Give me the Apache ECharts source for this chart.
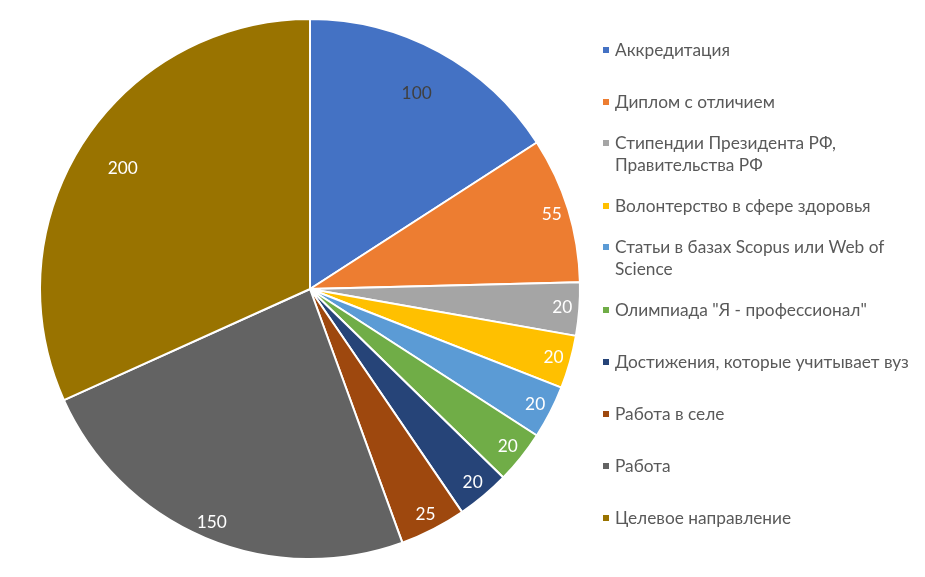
<!DOCTYPE html>
<html>
<head>
<meta charset="utf-8">
<script src="https://cdn.jsdelivr.net/npm/echarts@6/dist/echarts.min.js"></script>
<style>
html,body{margin:0;padding:0;background:#fff;}
#main{width:925px;height:577px;}
</style>
</head>
<body>
<div id="main"></div>
<script>
// Data
const categories = [
  'Аккредитация',
  'Диплом с отличием',
  'Стипендии Президента РФ,\nПравительства РФ',
  'Волонтерство в сфере здоровья',
  'Статьи в базах Scopus или Web of\nScience',
  'Олимпиада "Я - профессионал"',
  'Достижения, которые учитывает вуз',
  'Работа в селе',
  'Работа',
  'Целевое направление'
];
const values = [100, 55, 20, 20, 20, 20, 20, 25, 150, 200];

// Styles
const colors = ['#4472C4', '#ED7D31', '#A5A5A5', '#FFC000', '#5B9BD5', '#70AD47', '#264478', '#9E480E', '#636363', '#997300'];
const labelColors = ['#404040', '#fff', '#fff', '#fff', '#fff', '#fff', '#fff', '#fff', '#fff', '#fff'];
const innerLabelItems = ['Аккредитация', 'Целевое направление'];

const FONT = 'Lato, "Open Sans", sans-serif';
const FS = 17.3;
const CX = 310, CY = 289, R = 270;

function mainData() {
  return categories.map((c, i) => ({ name: c, value: values[i], itemStyle: { color: colors[i] } }));
}
function labelData(inner) {
  return categories.map((c, i) => {
    const show = innerLabelItems.includes(c) === inner;
    return {
      name: c, value: values[i],
      label: { show: show, color: labelColors[i] }
    };
  });
}

const series = [
  {
    type: 'pie', name: 'main', center: [CX, CY], radius: [0, R],
    startAngle: 90, clockwise: true, avoidLabelOverlap: false,
    label: { show: false }, labelLine: { show: false },
    itemStyle: { borderColor: '#fff', borderWidth: 2 },
    emphasis: { disabled: true }, silent: true,
    data: mainData()
  },
  {
    type: 'pie', name: 'labelsOuter', center: [CX, CY], radius: [R - 40, R],
    startAngle: 90, clockwise: true, avoidLabelOverlap: false,
    itemStyle: { color: 'rgba(0,0,0,0)', borderWidth: 0 },
    label: { position: 'inside', formatter: '{c}', fontSize: FS, fontFamily: FONT },
    labelLine: { show: false },
    emphasis: { disabled: true }, silent: true,
    data: labelData(false)
  },
  {
    type: 'pie', name: 'labelsInner', center: [CX, CY], radius: [R - 100, R],
    startAngle: 90, clockwise: true, avoidLabelOverlap: false,
    itemStyle: { color: 'rgba(0,0,0,0)', borderWidth: 0 },
    label: { position: 'inside', formatter: '{c}', fontSize: FS, fontFamily: FONT },
    labelLine: { show: false },
    emphasis: { disabled: true }, silent: true,
    data: labelData(true)
  }
];

// Legends: one per item so that spacing matches even slots
const SLOT0 = 50, SLOT = 52, LH = 22;
const legends = categories.map((c, i) => {
  const twoLine = c.indexOf('\n') >= 0;
  const s = SLOT0 + SLOT * i;
  return {
    data: [{ name: c, icon: 'rect' }],
    left: 601,
    top: twoLine ? s - 2 * LH : s - LH / 2,
    orient: 'vertical',
    padding: 0,
    itemWidth: 8, itemHeight: 8,
    selectedMode: false,
    formatter: (n) => (n.indexOf('\n') >= 0 ? '\n' + n : n),
    textStyle: { fontSize: FS, fontFamily: FONT, color: '#595959', lineHeight: LH }
  };
});

const chart = echarts.init(document.getElementById('main'), null, { renderer: 'canvas' });
chart.setOption({
  animation: false,
  backgroundColor: '#fff',
  legend: legends,
  series: series
});
</script>
</body>
</html>
